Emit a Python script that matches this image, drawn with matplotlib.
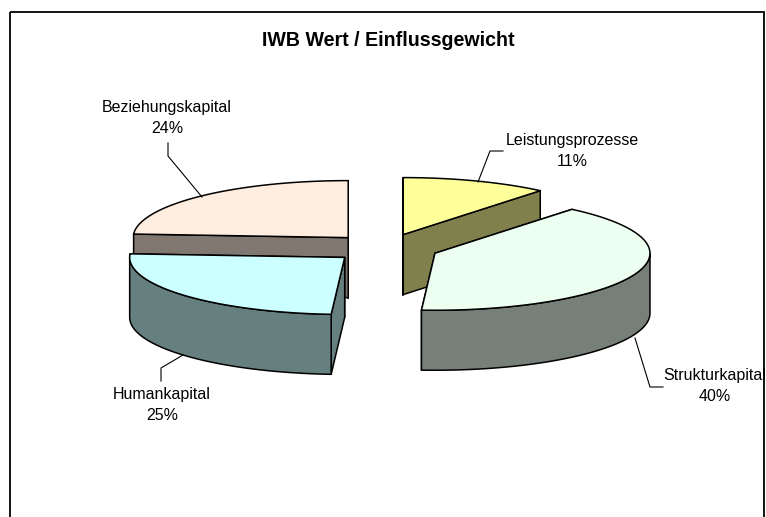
import numpy as np
import matplotlib
matplotlib.use('Agg')
import matplotlib.pyplot as plt
from matplotlib.colors import to_rgb
from matplotlib.patches import Polygon, Rectangle

plt.rcParams['font.family'] = ['Liberation Sans', 'DejaVu Sans']

title = 'IWB Wert / Einflussgewicht'
names = ['Leistungsprozesse', 'Strukturkapital', 'Humankapital', 'Beziehungskapital']
shares = [11, 40, 25, 24]
top_colors = ['#FFFF99', '#ECFFF0', '#CCFFFF', '#FFEEE0']

# layout, in pixels of the picture
cx, cy = 385, 248
rx, ry = 215, 57
depth = 60
explode = 0.25
label_pos = [(572, 151), (715, 386), (162, 405), (167, 118)]
leaders = [[(478, 182), (490, 151), (503, 151)],
           [(635, 338), (650, 387), (663, 387)],
           [(183, 355), (161, 368), (161, 381)],
           [(202, 197), (168, 156), (168, 143)]]

fig = plt.figure(figsize=(7.66, 5.17), dpi=100)
ax = fig.add_axes([0, 0, 1, 1])
ax.set_xlim(0, 766)
ax.set_ylim(517, 0)
ax.axis('off')

lw = 1.1
edges = np.cumsum([0] + shares) / sum(shares) * 2 * np.pi


def point(x0, y0, a):
    # angle runs clockwise from twelve o'clock
    return x0 + rx * np.sin(a), y0 - ry * np.cos(a)


def draw_slice(a0, a1, color):
    mid = (a0 + a1) / 2
    x0 = cx + explode * rx * np.sin(mid)
    y0 = cy - explode * ry * np.cos(mid)
    side = tuple(c * 0.5 for c in to_rgb(color))

    # cut faces, the one further back first
    for a in sorted([a0, a1], key=lambda t: -np.cos(t)):
        x1, y1 = point(x0, y0, a)
        quad = [(x0, y0), (x1, y1), (x1, y1 + depth), (x0, y0 + depth)]
        ax.add_patch(Polygon(quad, fc=side, ec='black', lw=lw, joinstyle='round'))

    # outer wall, only the front half of the ellipse shows it
    w0, w1 = max(a0, np.pi / 2), min(a1, 3 * np.pi / 2)
    if w1 > w0:
        t = np.linspace(w0, w1, 80)
        xs, ys = point(x0, y0, t)
        wall = np.r_[np.c_[xs, ys], np.c_[xs, ys + depth][::-1]]
        ax.add_patch(Polygon(wall, fc=side, ec='black', lw=lw, joinstyle='round'))

    t = np.linspace(a0, a1, 120)
    xs, ys = point(x0, y0, t)
    face = np.r_[[(x0, y0)], np.c_[xs, ys]]
    ax.add_patch(Polygon(face, fc=color, ec='black', lw=lw, joinstyle='round'))


# back to front
order = sorted(range(len(shares)), key=lambda i: -np.cos((edges[i] + edges[i + 1]) / 2))
for i in order:
    draw_slice(edges[i], edges[i + 1], top_colors[i])

# chart frame, its lower edge is cut off by the picture
frame = Rectangle((10, 12), 754, 530, fc='none', ec='black', lw=1.3)
ax.add_patch(frame)

for name, share, pos, leader in zip(names, shares, label_pos, leaders):
    xs, ys = zip(*leader)
    ax.plot(xs, ys, color='black', lw=0.8)
    txt = ax.text(pos[0], pos[1], f'{name}\n{share}%', ha='center', va='center',
                  fontsize=11.5, color='black', linespacing=1.5, ma='center')
    txt.set_clip_path(frame)

ax.text(388.5, 40, title, ha='center', va='center', fontsize=14.1, fontweight='bold')

fig.savefig('out.png', dpi=100)
